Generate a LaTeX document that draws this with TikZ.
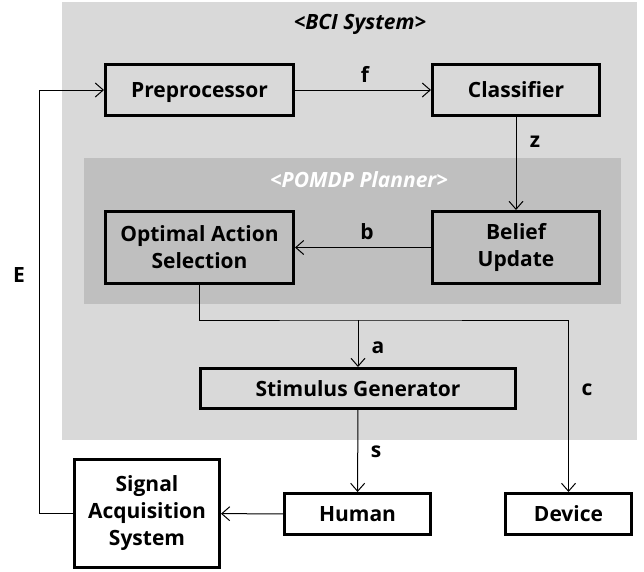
\documentclass[tikz,border=0pt]{standalone}
\usepackage{fontspec}
\setsansfont{Open Sans}
\usetikzlibrary{arrows.meta,positioning,calc}
\definecolor{bcigray}{HTML}{D9D9D9}
\definecolor{pomdpgray}{HTML}{BFBFBF}

\begin{document}
\begin{tikzpicture}[x=1pt, y=-1pt,
    box/.style={draw, line width=3pt, align=center, inner sep=0pt, font=\sffamily\bfseries\fontsize{21}{27}\selectfont},
    oneline/.style={text height=17pt, text depth=2pt},
    lbl/.style={inner sep=0pt, font=\sffamily\bfseries\fontsize{21}{25}\selectfont},
    title/.style={inner sep=0pt, font=\sffamily\bfseries\itshape\fontsize{21}{25}\selectfont},
    arrow/.style={-{Straight Barb[length=8pt,width=14pt]}, line width=1pt}
]
    \useasboundingbox[fill=white] (0,0) rectangle (644,571);

    % system regions
    \fill[bcigray] (62,2) rectangle (637,440);
    \fill[pomdpgray] (84,158) rectangle (621,304);
    \node[title] (bcititle) at (360,24) {<BCI System>};
    \node[title, text=white] (pomdptitle) at (359,180) {<POMDP Planner>};

    \node[box, oneline, minimum width=188pt, minimum height=51pt] (pre) at (199.5,90) {Preprocessor};
    \node[box, oneline, minimum width=167pt, minimum height=51pt] (cls) at (516,90) {Classifier};
    \node[box, minimum width=188pt, minimum height=72pt] (opt) at (199.5,247.5) {Optimal Action\\Selection};
    \node[box, minimum width=167pt, minimum height=72pt] (bel) at (516,247.5) {Belief\\Update};
    \node[box, oneline, minimum width=315pt, minimum height=40pt] (stim) at (358,388.5) {Stimulus Generator};
    \node[box, minimum width=145pt, minimum height=108pt] (sig) at (147,513.5) {Signal\\Acquisition\\System};
    \node[box, oneline, minimum width=146pt, minimum height=41pt] (hum) at (357.5,514) {Human};
    \node[box, oneline, minimum width=126pt, minimum height=41pt] (dev) at (568.5,514) {Device};

    \coordinate (split) at (358,320);

    \draw[arrow] (pre) -- (cls);
    \draw[arrow] (cls) -- (bel);
    \draw[arrow] (bel) -- (opt);
    \draw[arrow] (opt.south) |- (split) -| (dev.north);
    \draw[arrow] (split) -- (stim.north);
    \draw[arrow] (stim) -- (hum);
    \draw[arrow] (hum) -- (sig);
    \draw[arrow] (sig.west) -- ++(-34,0) |- (pre.west);

    % signal labels
    \node[lbl] (lf) at (365,74) {f};
    \node[lbl] (lz) at (535,142) {z};
    \node[lbl] (lb) at (367,232) {b};
    \node[lbl] (la) at (378,348) {a};
    \node[lbl] (lc) at (587,390) {c};
    \node[lbl] (ls) at (376,452) {s};
    \node[lbl] (le) at (19,275) {E};
\end{tikzpicture}
\end{document}
